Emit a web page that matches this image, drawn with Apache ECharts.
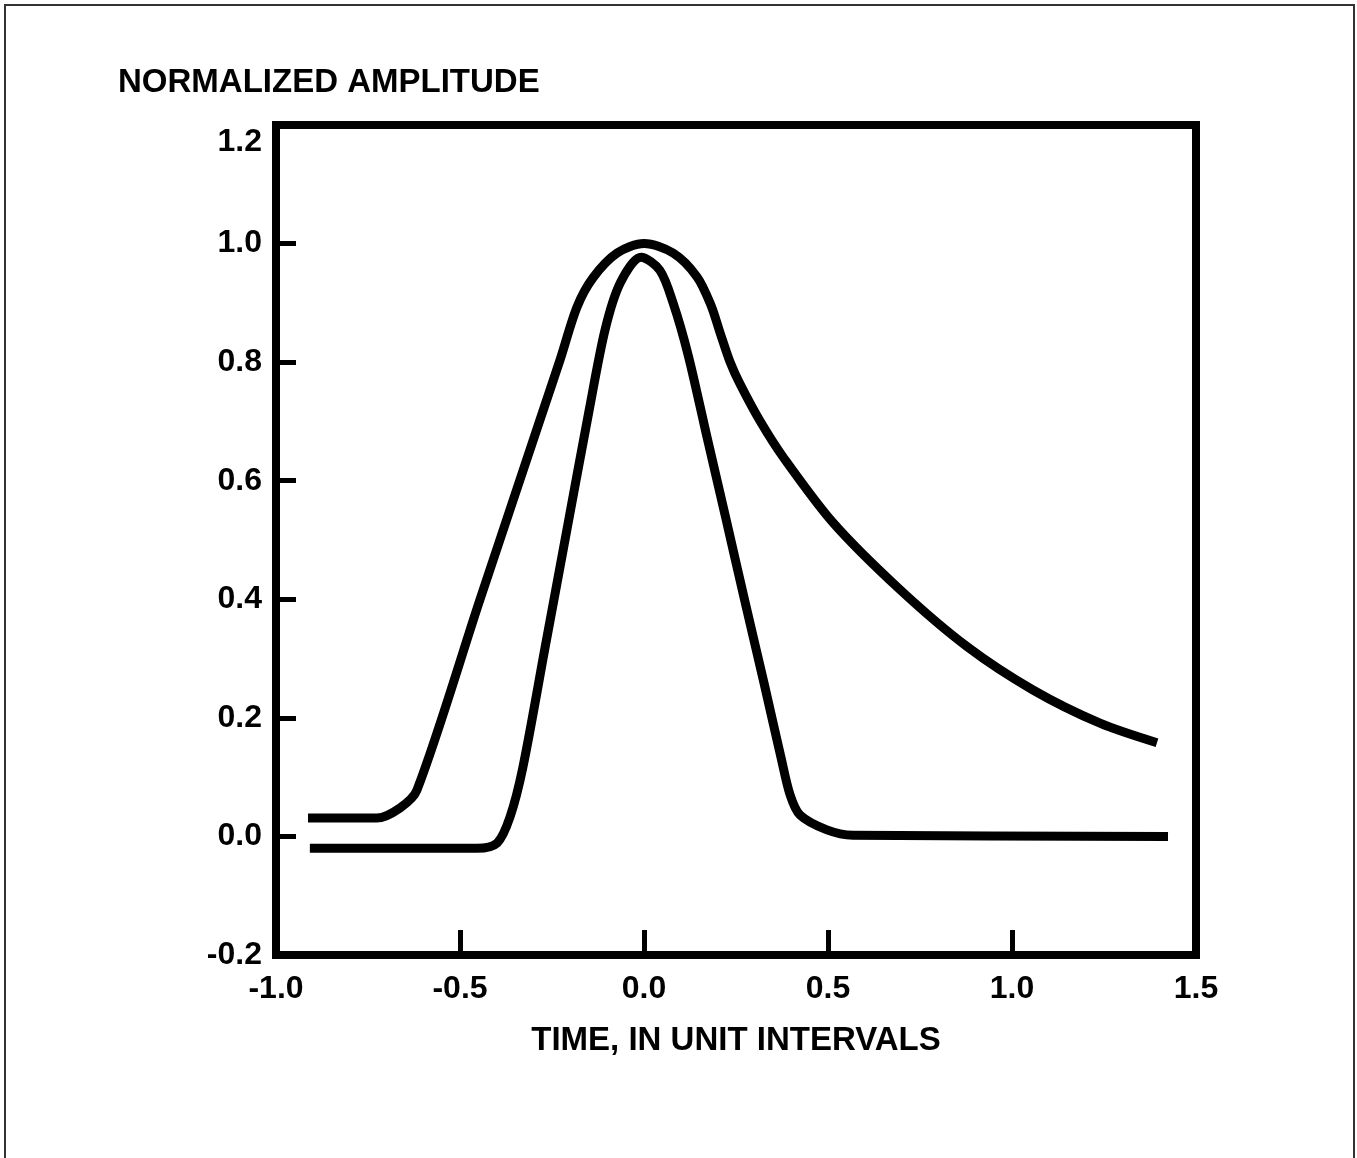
<!DOCTYPE html>
<html>
<head>
<meta charset="utf-8">
<title>Normalized amplitude</title>
<script src="https://cdn.jsdelivr.net/npm/echarts@6/dist/echarts.min.js"></script>
<style>
  html, body { margin: 0; padding: 0; background: #fff; }
  #chart { width: 1357px; height: 1158px; }
</style>
</head>
<body>
<div id="chart"></div>
<script>
  // wide pulse (slow decay tail)
  const wideTime = [-0.913, -0.726, -0.663, -0.617, -0.446, -0.283, -0.228, -0.182, -0.139, -0.073, 0.0, 0.079, 0.144, 0.182, 0.207, 0.234, 0.261, 0.315, 0.378, 0.514, 0.696, 0.878, 1.057, 1.239, 1.394]
  const wideAmp = [0.031, 0.031, 0.048, 0.078, 0.399, 0.702, 0.804, 0.893, 0.942, 0.984, 1.0, 0.984, 0.944, 0.896, 0.849, 0.800, 0.763, 0.701, 0.640, 0.529, 0.416, 0.320, 0.247, 0.191, 0.158]

  // narrow pulse
  const narrowTime = [-0.908, -0.454, -0.399, -0.364, -0.329, -0.269, -0.209, -0.149, -0.106, -0.065, -0.008, 0.043, 0.079, 0.120, 0.171, 0.223, 0.274, 0.326, 0.372, 0.397, 0.424, 0.497, 0.568, 1.424]
  const narrowAmp = [-0.020, -0.020, -0.011, 0.033, 0.117, 0.318, 0.519, 0.719, 0.854, 0.933, 0.977, 0.955, 0.900, 0.812, 0.674, 0.535, 0.397, 0.259, 0.134, 0.070, 0.036, 0.011, 0.002, 0.0]

  const xTicks = [-1.0, -0.5, 0.0, 0.5, 1.0, 1.5]
  const yTicks = [-0.2, 0.0, 0.2, 0.4, 0.6, 0.8, 1.0, 1.2]

  const FONT = '"Liberation Sans", Arial, sans-serif'

  const zip = (xs, ys) => xs.map((x, i) => [x, ys[i]])

  const chart = echarts.init(document.getElementById('chart'))

  const lineSeries = (name, data) => ({
    name: name,
    type: 'line',
    data: data,
    smooth: 0.3,
    showSymbol: false,
    symbol: 'none',
    lineStyle: { color: '#000', width: 9, cap: 'butt', join: 'round' },
    z: 3
  })

  chart.setOption({
    animation: false,
    backgroundColor: '#fff',
    title: {
      text: 'NORMALIZED AMPLITUDE',
      left: 113,
      top: 61,
      textStyle: { fontFamily: FONT, fontWeight: 'bold', fontSize: 33, color: '#000' }
    },
    graphic: [{
      type: 'rect',
      shape: { x: 5, y: 5, width: 1349, height: 1200 },
      style: { fill: 'none', stroke: '#333', lineWidth: 2 },
      silent: true
    }],
    grid: {
      left: 276,
      right: 161,
      top: 125,
      bottom: 203,
      show: true,
      borderColor: '#000',
      borderWidth: 8,
      backgroundColor: 'transparent'
    },
    xAxis: {
      type: 'value',
      min: xTicks[0],
      max: xTicks[xTicks.length - 1],
      interval: 0.5,
      name: 'TIME, IN UNIT INTERVALS',
      nameLocation: 'middle',
      nameGap: 69,
      nameTextStyle: { fontFamily: FONT, fontWeight: 'bold', fontSize: 33, color: '#000' },
      axisLine: { show: false, onZero: false },
      splitLine: { show: false },
      axisTick: { show: true, inside: true, length: 25, lineStyle: { color: '#000', width: 5 } },
      axisLabel: {
        margin: 18,
        fontFamily: FONT,
        fontWeight: 'bold',
        fontSize: 32,
        color: '#000',
        formatter: v => v.toFixed(1)
      }
    },
    yAxis: {
      type: 'value',
      min: yTicks[0],
      max: yTicks[yTicks.length - 1],
      interval: 0.2,
      axisLine: { show: false, onZero: false },
      splitLine: { show: false },
      axisTick: { show: true, inside: true, length: 20, lineStyle: { color: '#000', width: 5 } },
      axisLabel: {
        margin: 14,
        fontFamily: FONT,
        fontWeight: 'bold',
        fontSize: 32,
        color: '#000',
        formatter: v => {
          const s = (Math.round(v * 10) / 10).toFixed(1)
          return Math.abs(v - 1.2) < 1e-6 ? '{top|' + s + '}' : s
        },
        rich: {
          top: { fontFamily: FONT, fontWeight: 'bold', fontSize: 32, color: '#000', padding: [34, 0, 0, 0] }
        }
      }
    },
    series: [
      lineSeries('wide', zip(wideTime, wideAmp)),
      lineSeries('narrow', zip(narrowTime, narrowAmp))
    ]
  })
</script>
</body>
</html>
